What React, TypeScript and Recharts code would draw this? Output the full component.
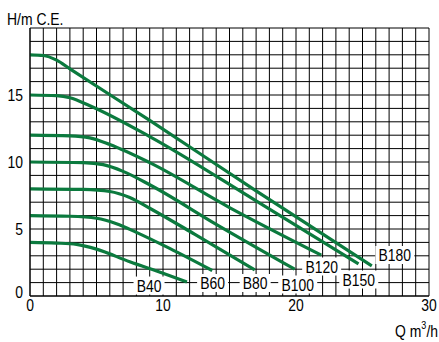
import React from 'react';
import { LineChart, Line, XAxis, YAxis, CartesianGrid, ReferenceDot } from 'recharts';

const FONT = "'Liberation Sans', Arial, sans-serif";
const GREEN = '#0b7a3e';
const NARROW = 0.82;

const models = ['B40', 'B60', 'B80', 'B100', 'B120', 'B150', 'B180'];

const B40 = [
  { q: 0, h: 4 }, { q: 2, h: 3.95 }, { q: 3.5, h: 3.85 }, { q: 5, h: 3.5 },
  { q: 7.5, h: 2.55 }, { q: 10, h: 1.7 }, { q: 11.8, h: 1.05 },
];
const B60 = [
  { q: 0, h: 6 }, { q: 3, h: 5.95 }, { q: 5, h: 5.8 }, { q: 6.5, h: 5.4 },
  { q: 8, h: 4.75 }, { q: 10.5, h: 3.55 }, { q: 13.7, h: 1.9 },
];
const B80 = [
  { q: 0, h: 8 }, { q: 4, h: 7.95 }, { q: 6, h: 7.8 }, { q: 7.5, h: 7.35 },
  { q: 9, h: 6.55 }, { q: 12.4, h: 4.6 }, { q: 16.9, h: 1.95 },
];
const B100 = [
  { q: 0, h: 10 }, { q: 4, h: 9.95 }, { q: 5.5, h: 9.8 }, { q: 7, h: 9.3 },
  { q: 9, h: 8.3 }, { q: 14, h: 5.35 }, { q: 19.9, h: 2.0 },
];
const B120 = [
  { q: 0, h: 12 }, { q: 3, h: 11.95 }, { q: 4.5, h: 11.8 }, { q: 6, h: 11.3 },
  { q: 9, h: 9.95 }, { q: 15, h: 6.6 }, { q: 21.9, h: 3.05 },
];
const B150 = [
  { q: 0, h: 15 }, { q: 2, h: 14.95 }, { q: 3, h: 14.8 }, { q: 4.5, h: 14.2 },
  { q: 9, h: 11.9 }, { q: 17, h: 7.1 }, { q: 24.7, h: 2.4 },
];
const B180 = [
  { q: 0, h: 18 }, { q: 1, h: 17.95 }, { q: 2, h: 17.6 }, { q: 3, h: 16.95 },
  { q: 9, h: 13.1 }, { q: 17, h: 7.85 }, { q: 25.7, h: 2.25 },
];
const seriesData = [B40, B60, B80, B100, B120, B150, B180];

const xTicks = [0, 1, 2, 3, 4, 5, 6, 7, 8, 9, 10, 11, 12, 13, 14, 15, 16, 17, 18, 19, 20, 21, 22, 23, 24, 25, 26, 27, 28, 29, 30];
const yTicks = [0, 1, 2, 3, 4, 5, 6, 7, 8, 9, 10, 11, 12, 13, 14, 15, 16, 17, 18, 19, 20];
const xTickLabels = [0, 10, 20, 30];
const yTickLabels = [0, 5, 10, 15];

const labelQ = [8.95, 13.73, 16.93, 20.13, 21.93, 24.72, 27.43];
const labelH = [0.78, 0.97, 0.97, 0.86, 2.2, 1.23, 3.06];

const NarrowText = ({ x, y, anchor, children, dy }: any) => (
  <g transform={`translate(${x},${y}) scale(${NARROW},1)`}>
    <text x={0} y={0} dy={dy} textAnchor={anchor} fontSize={17} fontFamily={FONT} fill="#000">
      {children}
    </text>
  </g>
);

const makeTag = (text: string) => (props: any) => {
  const { cx, cy } = props;
  const w = text.length * 8 + 7;
  return (
    <g>
      <rect x={cx - w / 2} y={cy - 9} width={w} height={18} fill="#fff" />
      <NarrowText x={cx} y={cy} dy="0.36em" anchor="middle">{text}</NarrowText>
    </g>
  );
};

const XTick = (props: any) => {
  const { x, y, payload } = props;
  if (!xTickLabels.includes(payload.value)) return <g />;
  return <NarrowText x={x} y={y} dy="0.71em" anchor="middle">{payload.value}</NarrowText>;
};

const YTick = (props: any) => {
  const { x, y, payload } = props;
  if (!yTickLabels.includes(payload.value)) return <g />;
  const shift = payload.value === 0 ? -4 : 0;
  return <NarrowText x={x} y={y + shift} dy="0.36em" anchor="end">{payload.value}</NarrowText>;
};

export default function App() {
  return (
    <div style={{ position: 'absolute', left: 0, top: 0 }}>
      <LineChart width={439} height={342} margin={{ top: 28, right: 10, bottom: 0, left: 0 }}>
        <CartesianGrid stroke="#000" strokeWidth={1} />
        <XAxis
          type="number"
          dataKey="q"
          domain={[0, 30]}
          ticks={xTicks}
          interval={0}
          tick={<XTick />}
          tickLine={false}
          tickSize={0}
          tickMargin={3}
          height={46}
          axisLine={{ stroke: '#000' }}
          allowDuplicatedCategory={false}
        />
        <YAxis
          type="number"
          domain={[0, 20]}
          ticks={yTicks}
          interval={0}
          tick={<YTick />}
          tickLine={false}
          tickSize={0}
          tickMargin={7}
          width={30}
          axisLine={{ stroke: '#000' }}
        />
        {seriesData.map((d, i) => (
          <Line
            key={models[i]}
            data={d}
            dataKey="h"
            type="monotone"
            stroke={GREEN}
            strokeWidth={3.2}
            dot={false}
            isAnimationActive={false}
          />
        ))}
        {models.map((m, i) => (
          <ReferenceDot key={'lbl' + m} x={labelQ[i]} y={labelH[i]} r={0} shape={makeTag(m)} />
        ))}
        <NarrowText x={7} y={25} anchor="start">H/m C.E.</NarrowText>
        <NarrowText x={438} y={337} anchor="end">
          Q m<tspan fontSize={11} dy={-8}>3</tspan><tspan dy={8}>/h</tspan>
        </NarrowText>
      </LineChart>
    </div>
  );
}
